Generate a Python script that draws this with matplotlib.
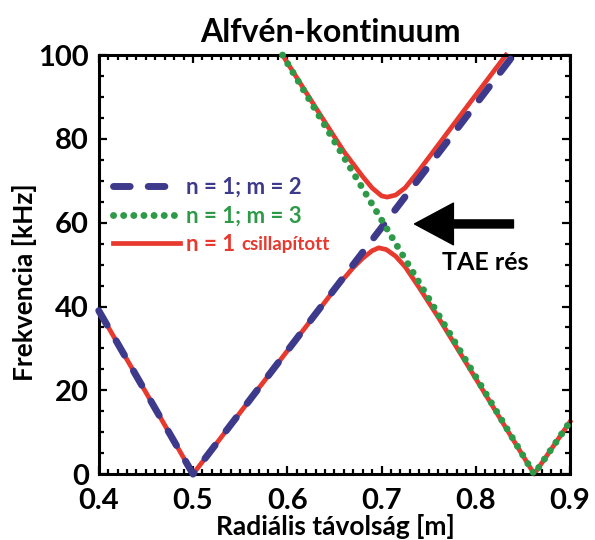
import matplotlib.pyplot as plt
from matplotlib.ticker import MultipleLocator

# data (radius in m, frequency in kHz)
r_m2 = [0.40, 0.50, 0.84]
f_m2 = [39, 0, 100]

r_m3 = [0.595, 0.862, 0.90]
f_m3 = [100, 0, 12.5]

r_low = [0.40, 0.50, 0.60, 0.65, 0.67, 0.68, 0.69, 0.697, 0.705, 0.715, 0.725, 0.74, 0.76, 0.862, 0.90]
f_low = [39, 0, 29.4, 44, 49.3, 51.5, 53.3, 54, 53.6, 52, 49.5, 44.5, 37.5, 0, 12.5]

r_up = [0.595, 0.63, 0.66, 0.68, 0.69, 0.70, 0.706, 0.715, 0.725, 0.74, 0.76, 0.79, 0.832]
f_up = [100, 87.5, 77, 71, 68.3, 66.4, 66.1, 66.6, 68.3, 72.5, 78.5, 87.5, 100]

navy = "#3d3a8c"
green = "#2e9a48"
red = "#e8392f"

plt.rcParams['font.family'] = ['Lato', 'DejaVu Sans']
plt.rcParams['font.weight'] = 'bold'
plt.rcParams['axes.labelweight'] = 'bold'

fig = plt.figure(figsize=(5.95, 5.40), dpi=100)
ax = fig.add_axes([0.166, 0.122, 0.792, 0.776])

ax.plot(r_low, f_low, color=red, lw=3.4, zorder=2, clip_on=False, label="n = 1")
ax.plot(r_up, f_up, color=red, lw=3.4, zorder=2, clip_on=False)
ax.plot(r_m2, f_m2, color=navy, lw=5, linestyle=(0, (2.4, 2.6)), dash_capstyle='round',
        zorder=3, clip_on=False, label="n = 1; m = 2")
ax.plot(r_m3, f_m3, color=green, lw=5, linestyle=(0, (0.01, 1.45)), dash_capstyle='round',
        zorder=3, clip_on=False, label="n = 1; m = 3")

ax.set_xlim(0.4, 0.9)
ax.set_ylim(0, 100)
ax.xaxis.set_major_locator(MultipleLocator(0.1))
ax.xaxis.set_minor_locator(MultipleLocator(0.01))
ax.yaxis.set_major_locator(MultipleLocator(20))
ax.yaxis.set_minor_locator(MultipleLocator(5))
ax.tick_params(which='both', direction='in', top=True, right=True, width=1.6, labelsize=21)
ax.tick_params(which='major', length=6, pad=7)
ax.tick_params(axis='x', which='major', pad=10)
ax.tick_params(which='minor', length=3.5)
for s in ax.spines.values():
    s.set_linewidth(2.2)

ax.set_xlabel("Radiális távolság [m]", fontsize=19, va='center')
ax.xaxis.set_label_coords(0.503, -0.126)
ax.set_ylabel("Frekvencia [kHz]", fontsize=19, va='center')
ax.yaxis.set_label_coords(-0.157, 0.458)
fig.text(330 / 595, 1 - 32 / 540, "Alfvén-kontinuum", fontsize=23, ha='center', va='center')

# legend
h, l = ax.get_legend_handles_labels()
order = [1, 2, 0]
leg = ax.legend([h[i] for i in order], [l[i] for i in order], loc='upper left',
                bbox_to_anchor=(0.03, 0.71), frameon=False, borderpad=0, borderaxespad=0,
                fontsize=16, handlelength=3.0, handletextpad=0.3, labelspacing=0.35)
for t, c in zip(leg.get_texts(), [navy, green, red]):
    t.set_color(c)

# arrow + gap label
ax.annotate("", xy=(0.735, 59.7), xytext=(0.84, 59.7),
            arrowprops=dict(arrowstyle='simple,head_length=2.8,head_width=3.0,tail_width=0.58',
                            color='black', mutation_scale=10, shrinkA=0, shrinkB=0))
ax.text(0.81, 50.5, "TAE rés", fontsize=18, ha='center', va='center')

fig.canvas.draw()
bb = leg.get_texts()[2].get_window_extent()
W, H = fig.get_size_inches() * fig.dpi
fig.text((bb.x1 + 6) / W, (bb.y0 + bb.y1) / 2 / H, "csillapított", color=red,
         fontsize=13.5, ha='left', va='center')

plt.savefig("out.png", dpi=100)
